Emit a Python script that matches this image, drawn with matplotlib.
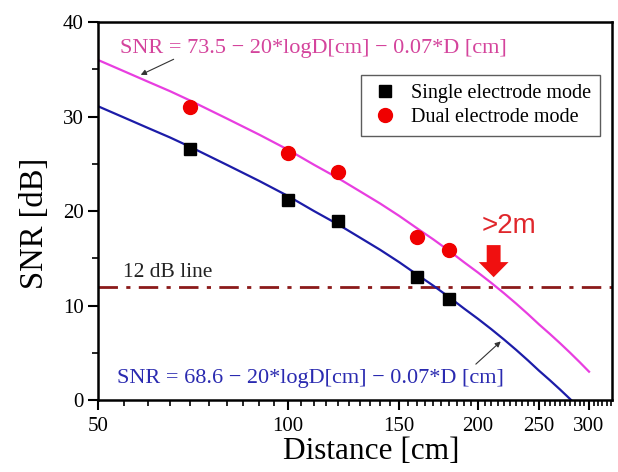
import matplotlib
matplotlib.use("Agg")
import matplotlib.pyplot as plt
from matplotlib.patches import FancyArrow
from matplotlib.ticker import FixedLocator, MultipleLocator, NullFormatter

plt.rcParams['font.family'] = ['Liberation Serif', 'DejaVu Serif']

# measured points
dist = [70, 100, 120, 160, 180]
snr_single = [26.6, 21.2, 19.0, 13.0, 10.7]
snr_dual = [31.0, 26.2, 24.1, 17.3, 15.9]

# fitted curves
fit_dist = [50, 55, 60, 65, 70, 80, 90, 100, 110, 120, 130, 140, 150, 160, 170, 180, 190,
            200, 210, 220, 230, 240, 250, 260, 270, 280, 290, 300]
fit_dual = [36.0, 34.8, 33.7, 32.7, 31.7, 29.8, 28.1, 26.5, 24.9, 23.5, 22.1, 20.8, 19.5, 18.2,
            17.0, 15.8, 14.6, 13.5, 12.4, 11.3, 10.2, 9.1, 8.0, 7.0, 6.0, 5.0, 4.0, 3.0]
fit_single = [31.1, 29.9, 28.8, 27.8, 26.8, 24.9, 23.2, 21.6, 20.0, 18.6, 17.2, 15.9, 14.6, 13.3,
              12.1, 10.9, 9.7, 8.6, 7.5, 6.4, 5.3, 4.2, 3.1, 2.1, 1.1, 0.1, -0.9, -1.9]

x_ticks = [50, 100, 150, 200, 250, 300]
threshold = 12

fig = plt.figure(figsize=(6.18, 4.72), dpi=100)
ax = fig.add_axes([0.1586, 0.1525, 0.8314, 0.8005])

ax.plot(fit_dist, fit_dual, color='#e83ee0', lw=1.6, zorder=2)
ax.plot(fit_dist, fit_single, color='#1c1ca8', lw=1.6, zorder=2)
ax.axhline(threshold, color='#8b1a1a', lw=2, linestyle=(0, (7, 3, 1.5, 3)), zorder=1)

ax.plot(dist, snr_single, 's', color='black', ms=9, label='Single electrode mode', zorder=3)
ax.plot(dist, snr_dual, 'o', color='#f00000', ms=10, label='Dual electrode mode', zorder=3)

ax.set_xscale('log')
ax.set_xlim(50, 326)
ax.set_ylim(0, 40)
ax.xaxis.set_major_locator(FixedLocator(x_ticks))
ax.xaxis.set_major_formatter(plt.FixedFormatter([str(t) for t in x_ticks]))
ax.xaxis.set_minor_locator(MultipleLocator(5))
ax.xaxis.set_minor_formatter(NullFormatter())
ax.yaxis.set_major_locator(MultipleLocator(10))
ax.yaxis.set_minor_locator(MultipleLocator(5))

ax.tick_params(which='major', direction='out', length=7, width=1.5, labelsize=15, top=False, right=False)
ax.tick_params(axis='x', which='major', pad=5)
ax.tick_params(which='minor', direction='out', length=4, width=1.2, top=False, right=False)
for s in ax.spines.values():
    s.set_linewidth(1.8)

ax.set_xlabel('Distance [cm]', fontsize=22.5, labelpad=1)
ax.xaxis.label.set_x(0.531)
ax.set_ylabel('SNR [dB]', fontsize=23.5, labelpad=9)
ax.yaxis.label.set_y(0.468)

ax.text(54.8, 13.0, '12 dB line', fontsize=15.5, color='#222222')

ax.text(54.1, 36.7, 'SNR = 73.5 \u2212 20*logD[cm] \u2212 0.07*D [cm]',
        fontsize=16, color='#d4449c')
ax.annotate('', xy=(57.9, 34.3), xytext=(66.5, 36.2),
            arrowprops=dict(arrowstyle='-|>', color='#333333', lw=0.8, mutation_scale=8))

ax.text(53.6, 1.8, 'SNR = 68.6 \u2212 20*logD[cm] \u2212 0.07*D [cm]',
        fontsize=16, color='#2a2ab0')
ax.annotate('', xy=(219, 6.4), xytext=(197, 3.6),
            arrowprops=dict(arrowstyle='-|>', color='#333333', lw=0.8, mutation_scale=8))

ax.text(203, 17.7, '>2m', fontsize=20, color='#e0262b', family=['Liberation Sans', 'DejaVu Sans'])
ax.add_patch(FancyArrow(0.770, 0.410, 0, -0.085, width=0.027, head_width=0.058,
                        head_length=0.040, length_includes_head=True,
                        color='#f01010', lw=0, transform=ax.transAxes, zorder=4))

leg = ax.legend(loc='upper right', bbox_to_anchor=(0.977, 0.86), fontsize=14.5,
                frameon=True, fancybox=False, edgecolor='#333333', handletextpad=0.6,
                borderpad=0.45, labelspacing=0.25, handlelength=1.4, borderaxespad=0)
leg.get_frame().set_linewidth(1.0)

fig.savefig('out.png', dpi=100)
